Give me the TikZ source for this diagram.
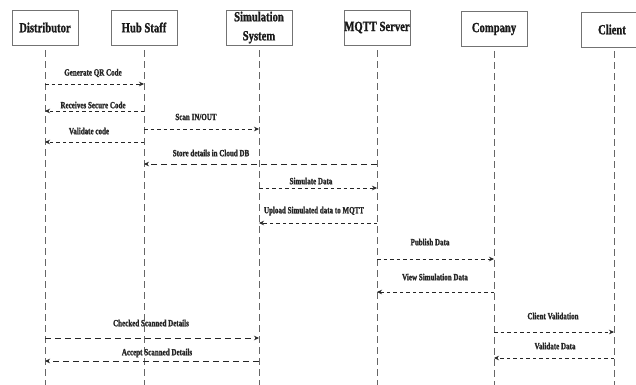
\documentclass[tikz,border=0pt]{standalone}
\usepackage{fontspec}
\setmainfont{Liberation Serif}[FakeStretch=0.76, BoldFeatures={FakeBold=1.2}]
\newfontfamily\lblfont{Liberation Serif}[FakeStretch=0.74, BoldFeatures={FakeBold=1.3}]
\usetikzlibrary{arrows.meta}
\tikzset{
  actor/.style={draw=black!55, line width=0.7pt, minimum width=66pt, minimum height=35pt, inner sep=0pt, font=\fontsize{14}{13}\selectfont\bfseries, align=center, text=black!90},
  life/.style={draw=black!60, line width=0.6pt, dash pattern=on 7pt off 4pt},
  msg/.style={draw=black!85, line width=0.6pt, dash pattern=on 3.5pt off 3pt, -{Stealth[length=5pt,width=4.5pt]}},
  msglong/.style={msg, dash pattern=on 6pt off 4pt},
  lbl/.style={font=\lblfont\fontsize{9.5}{10}\selectfont\bfseries, text=black!85, inner sep=0pt}
}
\begin{document}
\begin{tikzpicture}[x=1pt,y=-1pt]
\useasboundingbox (0,0) rectangle (636,384);
% actors
\node[actor] (d) at (45,27.5) {Distributor};
\node[actor] (h) at (144,27.5) {Hub Staff};
\node[actor, font=\fontsize{14}{15}\selectfont\bfseries] (s) at (259,27.5) {Simulation\\[1pt]\raisebox{-3pt}{System}};
\node[actor] (m) at (377,27.5) {MQTT Server};
\node[actor] (c) at (494,29) {Company};
\node[actor] (k) at (614,29.5) {\hspace*{-4pt}Client};
% lifeline ends
\coordinate (de) at (45,386);
\coordinate (he) at (144,386);
\coordinate (se) at (259,386);
\coordinate (me) at (377,386);
\coordinate (ce) at (494,386);
\coordinate (ke) at (614,386);
\draw[life] (d.south) ++(0,5) -- (de);
\draw[life] (h.south) ++(0,5) -- (he);
\draw[life] (s.south) ++(0,5) -- (se);
\draw[life] (m.south) ++(0,5) -- (me);
\draw[life] (c.south) ++(0,4) -- (ce);
\draw[life] (k.south) ++(0,4) -- (ke);
% message anchors
\foreach \n/\x in {d/45,h/144,s/259,m/377,c/494,k/614}{
  \foreach \y in {84,111,129,142,164,188,223,259,292,332,338,358,361}{
    \coordinate (\n\y) at (\x,\y);
  }
}
% messages
\draw[msg] (d84) -- (h84);
\node[lbl] (t1) at (93,73) {Generate QR Code};
\draw[msg] (h111) -- (d111);
\node[lbl] (t2) at (93,105) {Receives Secure Code};
\draw[msg] (h129) -- (s129);
\node[lbl] (t3) at (196,117) {Scan IN/OUT};
\draw[msg] (h142) -- (d142);
\node[lbl] (t4) at (89,131) {Validate code};
\draw[msglong] (m164) -- (h164);
\node[lbl] (t5) at (211,153) {Store details in Cloud DB};
\draw[msg] (s188) -- (m188);
\node[lbl] (t6) at (311,181) {Simulate Data};
\draw[msg] (m223) -- (s223);
\node[lbl] (t7) at (314,211) {Upload Simulated data to MQTT};
\draw[msg] (m259) -- (c259);
\node[lbl] (t8) at (430,242) {Publish Data};
\draw[msg] (c292) -- (m292);
\node[lbl] (t9) at (435,277) {View Simulation Data};
\draw[msg] (c332) -- (k332);
\node[lbl] (t10) at (553,316) {Client Validation};
\draw[msglong] (d338) -- (s338);
\node[lbl] (t11) at (151,323) {Checked Scanned Details};
\draw[msg] (k358) -- (c358);
\node[lbl] (t12) at (555,346) {Validate Data};
\draw[msglong] (s361) -- (d361);
\node[lbl] (t13) at (157,353) {Accept Scanned Details};
\end{tikzpicture}
\end{document}
